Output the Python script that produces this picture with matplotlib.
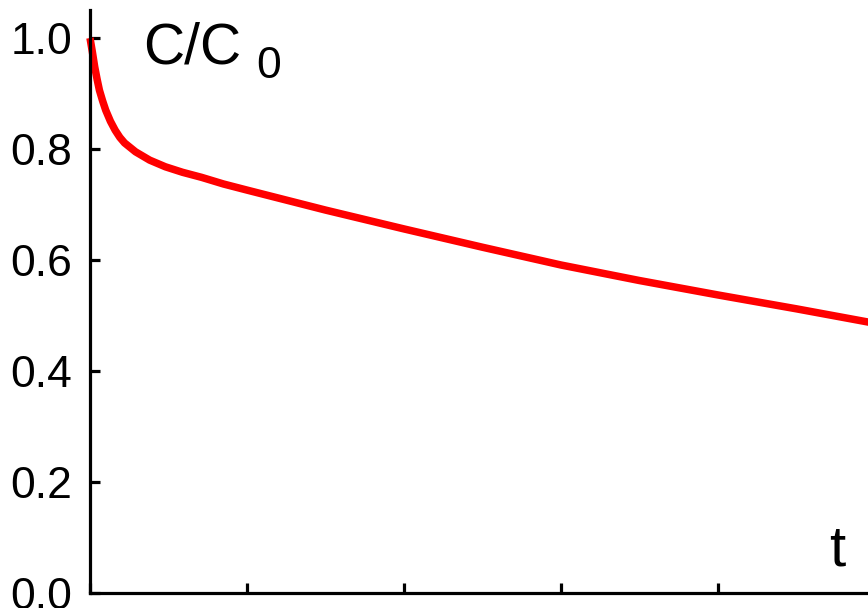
import matplotlib
matplotlib.use("Agg")
import matplotlib.pyplot as plt
import numpy as np

plt.rcParams['font.family'] = ['Liberation Sans', 'DejaVu Sans']

# concentration ratio C/C0 versus time
t_vals = [0.0, 0.015, 0.03, 0.045, 0.06, 0.08, 0.10, 0.13, 0.16, 0.19, 0.22, 0.29,
          0.38, 0.48, 0.59, 0.71, 0.85, 1.0, 1.25, 1.5, 2.0, 2.5, 3.0, 3.5, 4.0,
          4.5, 4.96]
c_ratio = [1.0, 0.975, 0.948, 0.926, 0.906, 0.887, 0.870, 0.850, 0.834, 0.821, 0.811,
           0.795, 0.780, 0.768, 0.758, 0.749, 0.737, 0.726, 0.708, 0.690, 0.656,
           0.623, 0.591, 0.563, 0.537, 0.512, 0.488]
x_ticks = [0, 1, 2, 3, 4]
y_ticks = [0.0, 0.2, 0.4, 0.6, 0.8, 1.0]
y_labels = ["0.0", "0.2", "0.4", "0.6", "0.8", "1.0"]

W, H = 868, 608
fig = plt.figure(figsize=(W / 100, H / 100), dpi=100)
ax = fig.add_axes([90 / W, 15 / H, 1 - 90 / W, (593 - 10) / H])

ax.plot(t_vals, c_ratio, color='#ff0000', lw=5.4, solid_capstyle='butt',
        solid_joinstyle='round', clip_on=False)

ax.set_xlim(0, 4.955)
ax.set_ylim(0, 1.0505)
ax.set_xticks(x_ticks)
ax.set_xticklabels([])
ax.set_yticks(y_ticks)
ax.set_yticklabels(y_labels)

for side in ['top', 'right']:
    ax.spines[side].set_visible(False)
for side in ['left', 'bottom']:
    ax.spines[side].set_linewidth(2.3)
    ax.spines[side].set_color('black')

ax.tick_params(axis='both', direction='in', length=7.5, width=2.3, color='black')
ax.tick_params(axis='y', labelsize=32, pad=13)

# axis captions
fig.text(143 / W, 1 - 63 / H, "C/C", fontsize=41, ha='left', va='baseline')
fig.text(256 / W, 1 - 78 / H, "0", fontsize=32, ha='left', va='baseline')
fig.text(829 / W, 1 - 565 / H, "t", fontsize=42, ha='left', va='baseline')

fig.savefig("out.png", dpi=100)
